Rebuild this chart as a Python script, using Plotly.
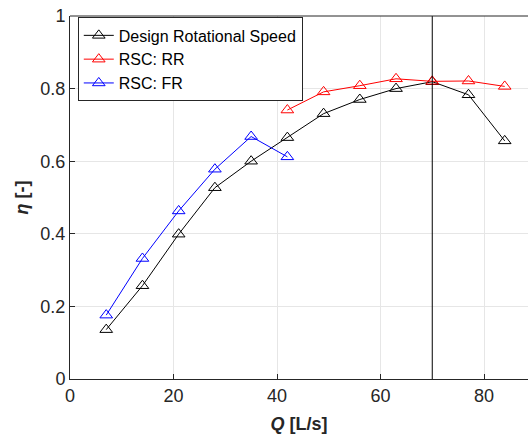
import plotly.graph_objects as go

q = [7, 14, 21, 28, 35, 42, 49, 56, 63, 70, 77, 84]
eta_design = [0.136, 0.257, 0.399, 0.527, 0.600, 0.665, 0.731, 0.770, 0.800, 0.819, 0.783, 0.656]
q_rr = [42, 49, 56, 63, 70, 77, 84]
eta_rr = [0.741, 0.791, 0.808, 0.827, 0.820, 0.821, 0.806]
q_fr = [7, 14, 21, 28, 35, 42]
eta_fr = [0.176, 0.332, 0.463, 0.578, 0.668, 0.612]
q_design_point = 70

x_ticks = [0, 20, 40, 60, 80]
y_ticks = [0, 0.2, 0.4, 0.6, 0.8, 1]
y_tick_labels = ["0", "0.2", "0.4", "0.6", "0.8", "1"]

fig = go.Figure()
series = [
    ("Design Rotational Speed", q, eta_design, "#000000"),
    ("RSC: RR", q_rr, eta_rr, "#ff0000"),
    ("RSC: FR", q_fr, eta_fr, "#0000ff"),
]
for name, xs, ys, col in series:
    fig.add_trace(go.Scatter(
        x=xs, y=ys, name=name, mode="lines+markers",
        line=dict(color=col, width=1),
        marker=dict(symbol="triangle-up-open", size=11, color=col, line=dict(width=1, color=col)),
    ))

fig.add_shape(type="line", xref="x", yref="paper", x0=q_design_point, x1=q_design_point,
              y0=0, y1=1, line=dict(color="#000000", width=1))
# top box border
fig.add_shape(type="line", xref="paper", yref="paper", x0=0, x1=1, y0=1, y1=1,
              line=dict(color="#262626", width=1))

fig.update_layout(
    width=528, height=438,
    margin=dict(l=70, r=0, t=16, b=59),
    paper_bgcolor="white", plot_bgcolor="white",
    font=dict(family="Liberation Sans, Arial, sans-serif", size=18, color="#262626"),
    showlegend=True,
    legend=dict(x=0.017, y=0.996, xanchor="left", yanchor="top",
                bgcolor="white", bordercolor="#262626", borderwidth=1,
                font=dict(size=16, color="#000000"), tracegroupgap=0),
    xaxis=dict(range=[0, 88.5], tickvals=x_ticks, showgrid=True, gridcolor="#e6e6e6",
               gridwidth=1, showline=True, linecolor="#262626", linewidth=1,
               ticks="inside", ticklen=5, tickcolor="#262626", zeroline=False,
               automargin=False, tickfont=dict(size=18), ticklabeloverflow="allow",
               title=dict(text="<b><i>Q</i> [L/s]</b>", font=dict(size=18), standoff=12)),
    yaxis=dict(range=[0, 1], tickvals=y_ticks, ticktext=y_tick_labels, showgrid=True,
               gridcolor="#e6e6e6", gridwidth=1, showline=True, linecolor="#262626",
               linewidth=1, ticks="inside", ticklen=5, tickcolor="#262626", zeroline=False,
               automargin=False, tickfont=dict(size=18), ticklabeloverflow="allow",
               title=dict(text="<b><i>η</i> [-]</b>", font=dict(size=18), standoff=7)),
)

fig.write_html("out.html", config={"displayModeBar": False},
               post_script="document.body.style.margin='0';")
